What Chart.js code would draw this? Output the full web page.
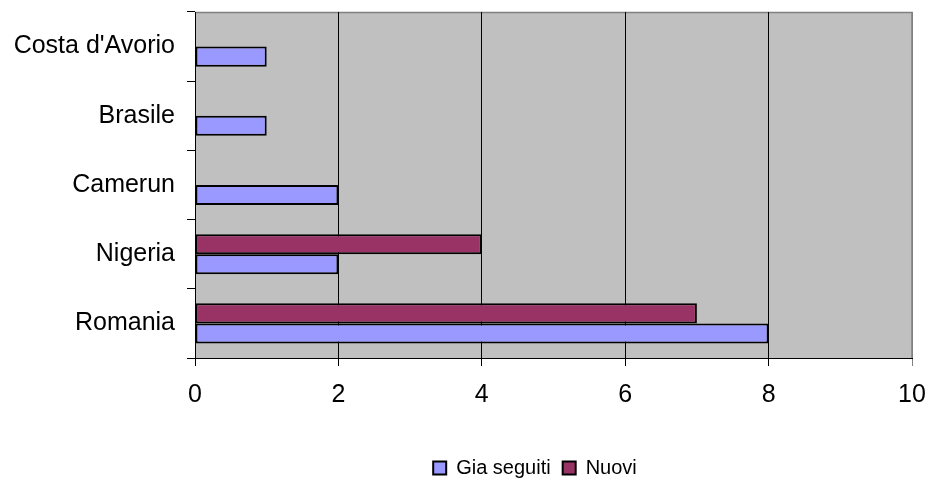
<!DOCTYPE html>
<html>
<head>
<meta charset="utf-8">
<script src="https://cdn.jsdelivr.net/npm/chart.js"></script>
<style>
  html, body { margin: 0; padding: 0; background: #fff; }
  #wrap { width: 928px; height: 480px; }
</style>
</head>
<body>
<div id="wrap"><canvas id="chart" width="928" height="480"></canvas></div>
<script>
// categories from bottom to top, as in the picture
const categories = ['Romania', 'Nigeria', 'Camerun', 'Brasile', "Costa d'Avorio"];
const giaSeguiti = [8, 2, 2, 1, 1];
const nuovi = [7, 4, null, null, null];
const xTicks = [0, 2, 4, 6, 8, 10];

// grey plot area like the old spreadsheet charts
const plotBg = {
  id: 'plotBg',
  afterLayout(chart) {
    // legend in the original sits a bit right of centre
    chart.legend.left += 68;
    chart.legend.right += 68;
  },
  beforeDraw(chart) {
    const { ctx, chartArea: a } = chart;
    ctx.save();
    ctx.fillStyle = '#c0c0c0';
    ctx.fillRect(a.left, a.top, a.right - a.left, a.bottom - a.top);
    ctx.strokeStyle = '#808080';
    ctx.lineWidth = 1.5;
    ctx.beginPath();
    ctx.moveTo(a.left, a.top + 0.5);
    ctx.lineTo(a.right, a.top + 0.5);
    ctx.lineTo(a.right, a.bottom);
    ctx.stroke();
    ctx.restore();
  }
};

const font = { family: '"Liberation Sans", Arial, sans-serif', size: 25 };
const legendFont = { family: '"Liberation Sans", Arial, sans-serif', size: 20 };

new Chart(document.getElementById('chart'), {
  type: 'bar',
  data: {
    labels: categories,
    datasets: [
      // Nuovi first so it sits above Gia seguiti inside each category
      { label: 'Nuovi', data: nuovi, backgroundColor: '#993366', borderColor: '#000', borderWidth: 2, borderSkipped: false },
      { label: 'Gia seguiti', data: giaSeguiti, backgroundColor: '#9999ff', borderColor: '#000', borderWidth: 2, borderSkipped: false }
    ]
  },
  options: {
    indexAxis: 'y',
    responsive: false,
    animation: false,
    layout: { padding: { left: 6, right: 0, top: 12, bottom: -8 } },
    datasets: { bar: { categoryPercentage: 0.58, barPercentage: 1.0 } },
    plugins: {
      tooltip: { enabled: false },
      legend: {
        position: 'bottom',
        reverse: true,
        labels: {
          font: legendFont, color: '#000', boxWidth: 13, boxHeight: 13,
          padding: 12, useBorderRadius: false
        }
      }
    },
    scales: {
      x: {
        min: 0, max: 10,
        afterBuildTicks(axis) { axis.ticks = xTicks.map(v => ({ value: v })); },
        ticks: { font: font, color: '#000', padding: 14 },
        grid: {
          color: (c) => (c.tick && c.tick.value === 10 ? '#808080' : '#000'),
          lineWidth: 1, tickLength: 8, drawTicks: true
        },
        border: { color: '#000', width: 1 },
        afterFit(axis) { axis.height = 88; axis.paddingLeft = 0; axis.paddingRight = 16; }
      },
      y: {
        reverse: true,
        offset: true,
        ticks: { font: font, color: '#000', padding: 12 },
        grid: { offset: true, drawOnChartArea: false, color: '#000', tickLength: 8 },
        border: { color: '#000', width: 1 },
        afterFit(axis) { axis.width = 189; axis.paddingTop = 0; axis.paddingBottom = 0; }
      }
    }
  },
  plugins: [plotBg]
});
</script>
</body>
</html>
